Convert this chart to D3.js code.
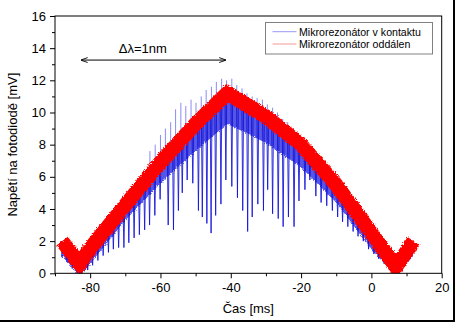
<!DOCTYPE html>
<html>
<head>
<meta charset="utf-8">
<script src="https://cdn.jsdelivr.net/npm/d3@7"></script>
<style>
  html, body { margin: 0; padding: 0; background: #fff; }
  svg { display: block; font-family: "Liberation Sans", Arial, sans-serif; }
</style>
</head>
<body>
<div id="chart"></div>
<script>
// ramp vertices of the detuned resonator signal (time in ms, mV)
const rampT   = [-88, -83, -80, -70, -60, -50, -41, -30, -20, -10, 0, 7, 12];
const redMid  = [2.0, 0.6, 1.55, 4.25, 6.9, 9.3, 11.2, 9.75, 8.0, 5.5, 2.5, 0.4, 2.0];
// lower edge of the dense part of the contact signal
const blueLow = [1.1, -0.2, 0.6, 3.3, 5.6, 7.6, 9.3, 8.1, 6.6, 4.4, 1.5, -0.2, 1.1];

// resonance dips of the contact signal: time and bottom value
const dipT = [-88.0, -86.6, -85.1, -83.7, -82.2, -80.7, -79.3, -77.8, -76.3, -74.8, -73.4, -71.9,
  -70.4, -69.0, -67.5, -66.0, -64.5, -63.1, -61.6, -60.1, -57.8, -56.3, -54.9, -53.8, -52.4,
  -50.8, -49.2, -48.1, -46.8, -45.6, -44.3, -42.8, -41.4, -39.7, -38.1, -36.6, -35.2, -33.9,
  -32.3, -30.7, -29.5, -28.1, -26.5, -25.1, -23.6, -22.0, -20.6, -18.9, -17.5, -15.8, -14.3,
  -12.7, -11.1, -9.6, -8.2, -6.7, -5.2, -3.8, -2.3, -0.8, 0.7, 2.1, 3.6, 5.1, 6.6, 8.0, 9.5, 11.0];
const dipV = [1.0, 0.7, 0.3, 0.05, 0.1, 0.2, 0.5, 0.8, 1.1, 1.3, 1.5, 1.6,
  1.6, 1.9, 2.2, 2.4, 2.7, 3.0, 3.6, 4.6, 3.0, 2.7, 3.9, 5.0, 5.8,
  5.6, 3.9, 3.5, 3.1, 2.5, 3.6, 4.3, 5.8, 5.4, 4.7, 3.9, 2.6, 3.5,
  4.3, 3.9, 5.2, 3.7, 3.4, 2.9, 3.5, 2.9, 4.5, 5.2, 5.8, 4.8, 4.4,
  4.2, 3.9, 3.5, 3.2, 2.9, 2.6, 2.3, 2.0, 1.5, 1.2, 0.9, 0.6, 0.2, 0.0, 0.1, 0.5, 0.9];

// overshoot spikes above the band near the top
const spikeT = [-63.0, -61.5, -60.0, -58.6, -57.1, -55.7, -54.2, -52.8, -51.3, -49.9, -48.4, -47.0,
  -45.5, -44.1, -42.6, -41.2, -39.7, -38.3, -36.8, -35.4, -33.9, -32.5, -31.0, -29.6, -28.1,
  -26.7, -25.2, -23.8, -22.3];
const spikeV = [7.6, 8.0, 8.6, 9.0, 9.4, 10.2, 10.6, 10.4, 10.8, 10.6, 11.0, 11.4,
  11.6, 11.9, 12.1, 12.0, 12.1, 11.7, 11.5, 11.2, 11.0, 10.9, 10.8, 10.5, 10.3,
  10.0, 9.6, 9.4, 9.0];

const xTicks = [-80, -60, -40, -20, 0, 20];
const yTicks = [0, 2, 4, 6, 8, 10, 12, 14, 16];
const seriesNames = ["Mikrorezonátor v kontaktu", "Mikrorezonátor oddálen"];

const W = 455, H = 322;
const margin = { top: 16, left: 55, right: 13.3, bottom: 48.7 };

const svg = d3.select("#chart").append("svg")
  .attr("width", W).attr("height", H);

const x = d3.scaleLinear().domain([-90, 20]).range([margin.left, W - margin.right]);
const y = d3.scaleLinear().domain([0, 16]).range([H - margin.bottom, margin.top]);
// band centre at any time, piecewise through the ramp vertices
const midAt = d3.scaleLinear().domain(rampT).range(redMid);

svg.append("defs").append("clipPath").attr("id", "plotclip")
  .append("rect")
  .attr("x", x(-90)).attr("y", y(16))
  .attr("width", x(20) - x(-90)).attr("height", y(0) - y(16));

const filt = svg.select("defs").append("filter").attr("id", "rough")
  .attr("x", "-5%").attr("y", "-5%").attr("width", "110%").attr("height", "110%");
filt.append("feTurbulence").attr("type", "fractalNoise")
  .attr("baseFrequency", "0.9").attr("numOctaves", 2).attr("seed", 3).attr("result", "n");
filt.append("feDisplacementMap").attr("in", "SourceGraphic").attr("in2", "n")
  .attr("scale", 4).attr("xChannelSelector", "R").attr("yChannelSelector", "G");

const plot = svg.append("g").attr("clip-path", "url(#plotclip)");

// contact signal: dense band under the red one
const blueArea = d3.area()
  .x((d, i) => x(rampT[i]))
  .y0((d, i) => y(blueLow[i]))
  .y1((d, i) => y(redMid[i]));
plot.append("path")
  .datum(rampT)
  .attr("d", blueArea)
  .attr("fill", "#2a2ae0")
  .attr("fill-opacity", 0.8)
  .attr("filter", "url(#rough)");

// resonance dips
plot.selectAll(".dip")
  .data(dipT)
  .join("path")
  .attr("class", "dip")
  .attr("d", (t, i) => "M" + x(t - 0.25) + "," + y(midAt(t)) +
    "L" + x(t) + "," + y(dipV[i]) + "L" + x(t + 0.25) + "," + y(midAt(t)))
  .attr("fill", "none")
  .attr("stroke", "#1010d8")
  .attr("stroke-width", 1)
  .attr("stroke-opacity", 0.85);

// spikes above the band
plot.selectAll(".spike")
  .data(spikeT)
  .join("line")
  .attr("class", "spike")
  .attr("x1", t => x(t)).attr("x2", t => x(t))
  .attr("y1", t => y(midAt(t))).attr("y2", (t, i) => y(spikeV[i]))
  .attr("stroke", "#5a5af0")
  .attr("stroke-width", 1)
  .attr("stroke-opacity", 0.7);

// detuned resonator signal: thick noisy red band
const ramp = d3.line()
  .x((d, i) => x(rampT[i]))
  .y((d, i) => y(redMid[i]));
plot.append("path")
  .datum(rampT)
  .attr("d", ramp)
  .attr("fill", "none")
  .attr("stroke", "#ff0000")
  .attr("stroke-width", 14.5)
  .attr("stroke-linejoin", "miter")
  .attr("filter", "url(#rough)");

// frame
svg.append("rect")
  .attr("x", x(-90)).attr("y", y(16))
  .attr("width", x(20) - x(-90)).attr("height", y(0) - y(16))
  .attr("fill", "none").attr("stroke", "#000").attr("stroke-width", 1);

// axes (plain hyphen for negative numbers)
const plain = d => String(d);
svg.append("g")
  .attr("transform", "translate(0," + y(0) + ")")
  .call(d3.axisBottom(x).tickValues(xTicks).tickSize(5).tickPadding(4).tickFormat(plain));
svg.append("g")
  .attr("transform", "translate(0," + y(0) + ")")
  .call(d3.axisBottom(x).tickValues([-90, -70, -50, -30, -10, 10]).tickSize(3).tickFormat(""));
svg.append("g")
  .attr("transform", "translate(" + x(-90) + ",0)")
  .call(d3.axisLeft(y).tickValues(yTicks).tickSize(5).tickPadding(4).tickFormat(plain));
svg.append("g")
  .attr("transform", "translate(" + x(-90) + ",0)")
  .call(d3.axisLeft(y).tickValues([1, 3, 5, 7, 9, 11, 13, 15]).tickSize(3).tickFormat(""));

svg.selectAll(".domain").remove();
svg.selectAll(".tick line").attr("stroke", "#000");
svg.selectAll(".tick text")
  .attr("font-size", 13)
  .attr("font-family", "Liberation Sans, Arial, sans-serif")
  .attr("fill", "#000");

// axis titles
svg.append("text")
  .attr("x", (x(-90) + x(20)) / 2).attr("y", 313)
  .attr("text-anchor", "middle").attr("font-size", 13)
  .text("Čas [ms]");
svg.append("text")
  .attr("transform", "translate(17," + (y(8)) + ") rotate(-90)")
  .attr("text-anchor", "middle").attr("font-size", 13)
  .text("Napětí na fotodiodě [mV]");

// wavelength span annotation
const arrowDefs = svg.select("defs");
arrowDefs.append("marker").attr("id", "ah").attr("viewBox", "0 0 10 10")
  .attr("refX", 9).attr("refY", 5).attr("markerWidth", 7).attr("markerHeight", 7)
  .attr("orient", "auto-start-reverse").attr("markerUnits", "userSpaceOnUse")
  .append("path").attr("d", "M0,1.5L10,5L0,8.5").attr("fill", "none").attr("stroke", "#000").attr("stroke-width", 1.3);
svg.append("line")
  .attr("x1", x(-82.5)).attr("x2", x(-41.5))
  .attr("y1", y(13.26)).attr("y2", y(13.26))
  .attr("stroke", "#000").attr("stroke-width", 1)
  .attr("marker-start", "url(#ah)").attr("marker-end", "url(#ah)");
svg.append("text")
  .attr("x", x(-65)).attr("y", y(13.26) - 7)
  .attr("text-anchor", "middle").attr("font-size", 13)
  .text("Δλ=1nm");

// legend
const lg = svg.append("g").attr("transform", "translate(265.5,22.5)");
lg.append("rect").attr("width", 167).attr("height", 31.5)
  .attr("fill", "#fff").attr("stroke", "#808080").attr("stroke-width", 1);
const legendColors = ["#8080ee", "#f08080"];
seriesNames.forEach((name, i) => {
  const ly = 9.2 + i * 12.3;
  lg.append("line").attr("x1", 7).attr("x2", 31).attr("y1", ly).attr("y2", ly)
    .attr("stroke", legendColors[i]).attr("stroke-width", 1).attr("stroke-opacity", 0.8);
  lg.append("text").attr("x", 33.5).attr("y", ly + 4)
    .attr("font-size", 10.6).attr("fill", "#000").text(name);
});

// outer border on the right and bottom edges
svg.append("line").attr("x1", W - 1).attr("x2", W - 1).attr("y1", 0).attr("y2", H)
  .attr("stroke", "#000").attr("stroke-width", 2);
svg.append("line").attr("x1", 0).attr("x2", W).attr("y1", H - 1).attr("y2", H - 1)
  .attr("stroke", "#000").attr("stroke-width", 2);
</script>
</body>
</html>
